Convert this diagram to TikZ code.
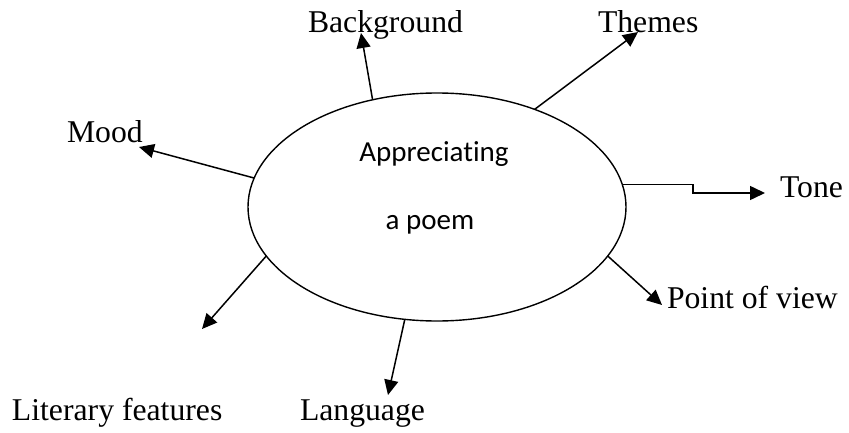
\documentclass[tikz,border=0pt]{standalone}
\usepackage{fontspec}
\setmainfont{Liberation Serif}
\newfontfamily\calib[Ligatures={NoCommon,NoRare,NoContextual}]{Carlito}
\usetikzlibrary{arrows.meta,shapes.geometric}
\begin{document}
\begin{tikzpicture}[x=1pt,y=1pt,
  lbl/.style={inner sep=0pt,outer sep=0pt,anchor=base west,font=\fontsize{31.7}{36}\selectfont},
  inlbl/.style={inner sep=0pt,outer sep=0pt,anchor=base,font=\calib\fontsize{29}{34}\selectfont},
  conn/.style={line width=1.5pt,-{Triangle[length=15pt,width=14pt]}},
  bubble/.style={draw,line width=1.4pt,ellipse,minimum width=378pt,minimum height=228pt,inner sep=0pt,outer sep=0pt}]
\useasboundingbox (0,0) rectangle (849,432);
\node[bubble] (e) at (437,225) {};
\node[inlbl] (t1) at (434,270) {Appreciat\kern0pt ing};
\node[inlbl] (t2) at (430,203) {a poem};
\node[lbl] (bg) at (308,399) {Background};
\node[lbl] (th) at (598,399) {Themes};
\node[lbl] (mo) at (67,289) {Mood};
\node[lbl] (to) at (780,235) {Tone};
\node[lbl] (pv) at (667,124) {Point of view};
\node[lbl] (lf) at (12,12) {Literary features};
\node[lbl] (la) at (300,12) {Language};
\coordinate (bgtip) at (361,399);
\coordinate (thtip) at (638,400);
\coordinate (motip) at (139,285);
\coordinate (totip) at (765,239);
\coordinate (pvtip) at (662,127);
\coordinate (lftip) at (202,103);
\coordinate (latip) at (388,37);
\draw[conn] (e.121) -- (bgtip);
\draw[conn] (e.45) -- (thtip);
\draw[conn] (e.171.8) -- (motip);
\draw[conn] (e.7.9) -- ++(71,0) |- (totip);
\draw[conn] (e.-16.4) -- (pvtip);
\draw[conn] (e.196.8) -- (lftip);
\draw[conn] (e.-106.6) -- (latip);
\end{tikzpicture}
\end{document}
